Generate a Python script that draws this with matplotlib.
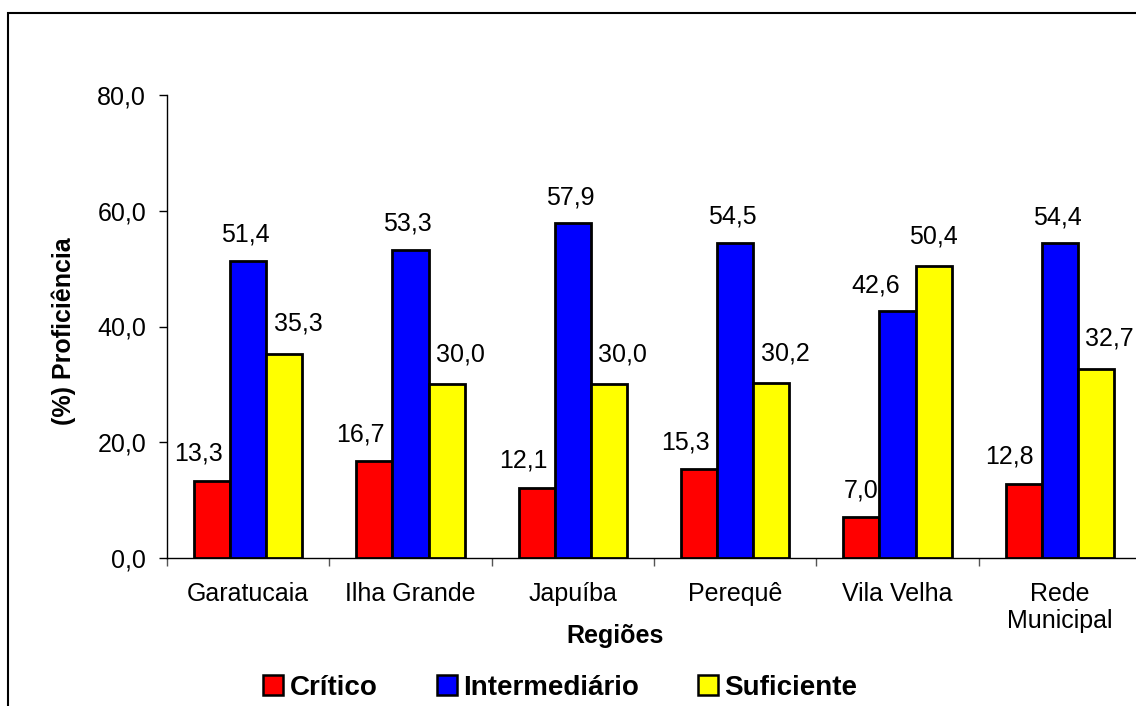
import matplotlib
matplotlib.use("Agg")
import matplotlib.pyplot as plt
from matplotlib.patches import Patch, Rectangle
from matplotlib.ticker import FixedLocator
import numpy as np

regioes = ["Garatucaia", "Ilha Grande", "Japuíba", "Perequê", "Vila Velha", "Rede\nMunicipal"]
series = ["Crítico", "Intermediário", "Suficiente"]
critico = [13.3, 16.7, 12.1, 15.3, 7.0, 12.8]
intermediario = [51.4, 53.3, 57.9, 54.5, 42.6, 54.4]
suficiente = [35.3, 30.0, 30.0, 30.2, 50.4, 32.7]
y_ticks = [0, 20, 40, 60, 80]

cores = ["#FF0000", "#0000FF", "#FFFF00"]
# deslocamento dos rótulos (pontos), por série e alguns casos especiais
desloc_serie = [-10, -2, 10]
altura_serie = [19.5, 18.5, 21.5]
desloc_especial = {(4, 0): 0, (4, 1): -16, (4, 2): 0}

plt.rcParams["font.family"] = ["Liberation Sans", "DejaVu Sans"]


def fmt(v):
    return f"{v:.1f}".replace(".", ",")


def main():
    fig = plt.figure(figsize=(11.36, 7.06), dpi=100)
    ax = fig.add_axes([167 / 1136, 1 - 558 / 706, 974 / 1136, (558 - 95) / 706])

    x = np.arange(len(regioes))
    largura = 0.222
    valores = [critico, intermediario, suficiente]
    for i, (nome, vals, cor) in enumerate(zip(series, valores, cores)):
        pos = x + (i - 1) * largura
        ax.bar(pos, vals, largura, color=cor, edgecolor="black", linewidth=2.0,
               label=nome, zorder=3)
        for j, (px, v) in enumerate(zip(pos, vals)):
            dx = desloc_especial.get((j, i), desloc_serie[i])
            ax.annotate(fmt(v), (px, v), xytext=(dx, altura_serie[i]), textcoords="offset points",
                        ha="center", va="center", fontsize=18)

    ax.set_ylim(0, 80)
    ax.set_xlim(-0.5, 5.5)
    ax.set_yticks(y_ticks)
    ax.set_yticklabels([fmt(t) for t in y_ticks], fontsize=18)
    ax.tick_params(axis="y", direction="out", length=6, width=1, pad=9)

    ax.set_xticks(x)
    ax.set_xticklabels(regioes, fontsize=18, linespacing=1.2)
    ax.tick_params(axis="x", which="major", length=0, pad=17)
    ax.xaxis.set_minor_locator(FixedLocator(np.arange(-0.5, 6, 1.0)))
    ax.tick_params(axis="x", which="minor", direction="out", length=6, width=1, color="#555555")

    for s in ["top", "right"]:
        ax.spines[s].set_visible(False)
    for s in ["left", "bottom"]:
        ax.spines[s].set_linewidth(1.0)

    ax.set_xlabel("Regiões", fontsize=18, fontweight="bold")
    ax.xaxis.set_label_coords((615 - 167) / 974, -(636 - 558) / 463)
    ax.xaxis.label.set_va("center")
    ax.set_ylabel("(%) Proficiência", fontsize=18, fontweight="bold")
    ax.yaxis.set_label_coords(-(167 - 64) / 974, (558 - 331) / 463)
    ax.yaxis.label.set_va("center")

    handles = [Patch(facecolor=c, edgecolor="black", linewidth=1.8) for c in cores]
    fig.legend(handles, series, loc="center", bbox_to_anchor=(560.5 / 1136, 1 - 688 / 706),
               ncol=3, frameon=False, prop={"size": 20, "weight": "bold"},
               handlelength=0.72, handleheight=0.72, handletextpad=0.25,
               columnspacing=2.1, borderpad=0, borderaxespad=0)

    # moldura externa do gráfico
    fig.add_artist(Rectangle((8 / 1136, -0.1), 1.1, 1.1 - 13 / 706,
                             transform=fig.transFigure, fill=False,
                             edgecolor="black", linewidth=1.5))

    fig.savefig("out.png", dpi=100)


if __name__ == "__main__":
    main()
